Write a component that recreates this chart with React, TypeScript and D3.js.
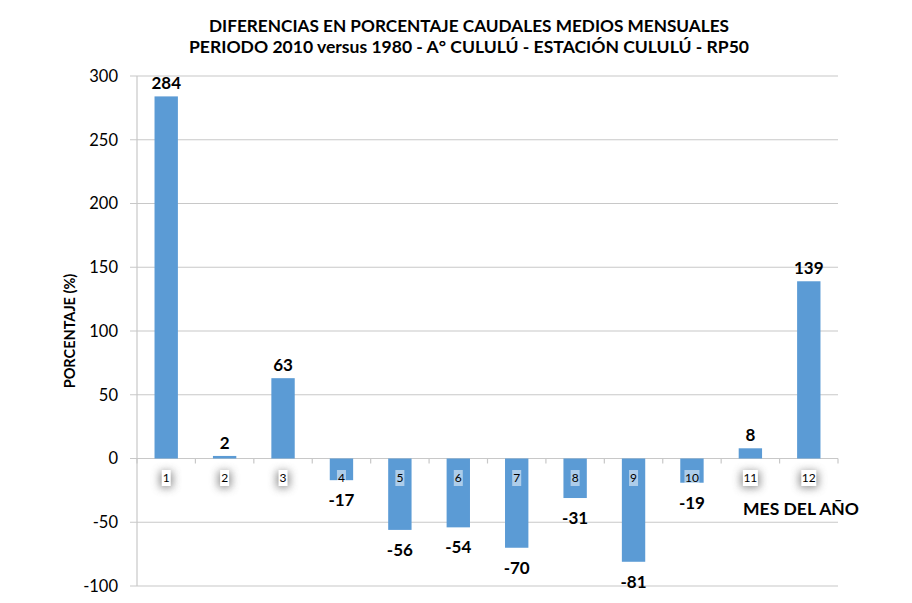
import React from "react";
import * as d3 from "d3";

const months = ["1", "2", "3", "4", "5", "6", "7", "8", "9", "10", "11", "12"];
const values = [284, 2, 63, -17, -56, -54, -70, -31, -81, -19, 8, 139];
const yTicks = [300, 250, 200, 150, 100, 50, 0, -50, -100];
const titleLines = [
  "DIFERENCIAS EN PORCENTAJE CAUDALES MEDIOS MENSUALES",
  "PERIODO 2010 versus 1980 - A° CULULÚ - ESTACIÓN CULULÚ - RP50",
];

const W = 912;
const H = 603;
const left = 137;
const right = 838;
const top = 76;
const bottom = 586;
const font = "Lato, 'Open Sans', sans-serif";

export default function App() {
  const x = d3.scaleBand<string>().domain(months).range([left, right]).paddingInner(0.6).paddingOuter(0.3);
  const y = d3.scaleLinear().domain([-100, 300]).range([bottom, top]);
  const band = d3.scaleBand<string>().domain(months).range([left, right]);
  const y0 = y(0);
  const titleWidths = [520, 560];
  return (
    <svg width={W} height={H} style={{ position: "absolute", left: 0, top: 0, background: "#fff" }}>
      <defs>
        <filter id="sh" x="-100%" y="-100%" width="300%" height="300%">
          <feGaussianBlur stdDeviation="4" />
        </filter>
      </defs>
      {titleLines.map((t, i) => (
        <text
          key={i}
          x={469}
          y={32 + i * 21}
          textAnchor="middle"
          fontFamily={font}
          fontWeight="bold"
          fontSize={17}
          textLength={titleWidths[i]}
          lengthAdjust="spacingAndGlyphs"
          fill="#000"
        >
          {t}
        </text>
      ))}
      {yTicks.map((t) => (
        <g key={t}>
          <line x1={130} x2={right} y1={y(t)} y2={y(t)} stroke="#c8c8c8" strokeWidth={1.2} />
          <text x={118} y={y(t)} dy="0.35em" textAnchor="end" fontFamily={font} fontSize={16.5} fill="#000">
            {t}
          </text>
        </g>
      ))}
      <line x1={left} x2={left} y1={top} y2={bottom} stroke="#c8c8c8" strokeWidth={1.2} />
      {months.map((m) => (
        <line key={"t" + m} x1={band(m)!} x2={band(m)!} y1={y0} y2={y0 + 5} stroke="#c8c8c8" strokeWidth={1.2} />
      ))}
      <line x1={right} x2={right} y1={y0} y2={y0 + 5} stroke="#c8c8c8" strokeWidth={1.2} />
      {months.map((m, i) => {
        const v = values[i];
        return (
          <rect
            key={"b" + m}
            x={x(m)!}
            width={x.bandwidth()}
            y={Math.min(y(v), y0)}
            height={Math.abs(y(v) - y0)}
            fill="#5b9bd5"
          />
        );
      })}
      {months.map((m, i) => {
        const cx = x(m)! + x.bandwidth() / 2;
        const v = values[i];
        const w = m.length > 1 ? 15 : 9;
        return (
          <g key={"l" + m}>
            {v >= 0 && <rect x={cx - w / 2 - 2} y={471} width={w + 4} height={17} fill="#777" filter="url(#sh)" opacity={0.8} />}
            <rect x={cx - w / 2} y={470} width={w} height={16} fill="#fff" opacity={v >= 0 ? 1 : 0.5} />
            <text x={cx} y={478} dy="0.35em" textAnchor="middle" fontFamily={font} fontSize={12} fill="#000">
              {m}
            </text>
          </g>
        );
      })}
      {months.map((m, i) => {
        const cx = x(m)! + x.bandwidth() / 2;
        const v = values[i];
        const ly = v >= 0 ? y(v) - 13 : y(v) + 20;
        return (
          <text key={"v" + m} x={cx} y={ly} dy="0.35em" textAnchor="middle" fontFamily={font} fontWeight="bold" fontSize={17} fill="#000">
            {v}
          </text>
        );
      })}
      <text x={801} y={509} dy="0.35em" textAnchor="middle" fontFamily={font} fontWeight="bold" fontSize={17.5} fill="#000">
        MES DEL AÑO
      </text>
      <text
        transform={`translate(70,${331}) rotate(-90)`}
        textAnchor="middle"
        dy="0.35em"
        fontFamily={font}
        fontWeight="bold"
        fontSize={14.5}
        fill="#000"
      >
        PORCENTAJE (%)
      </text>
    </svg>
  );
}
